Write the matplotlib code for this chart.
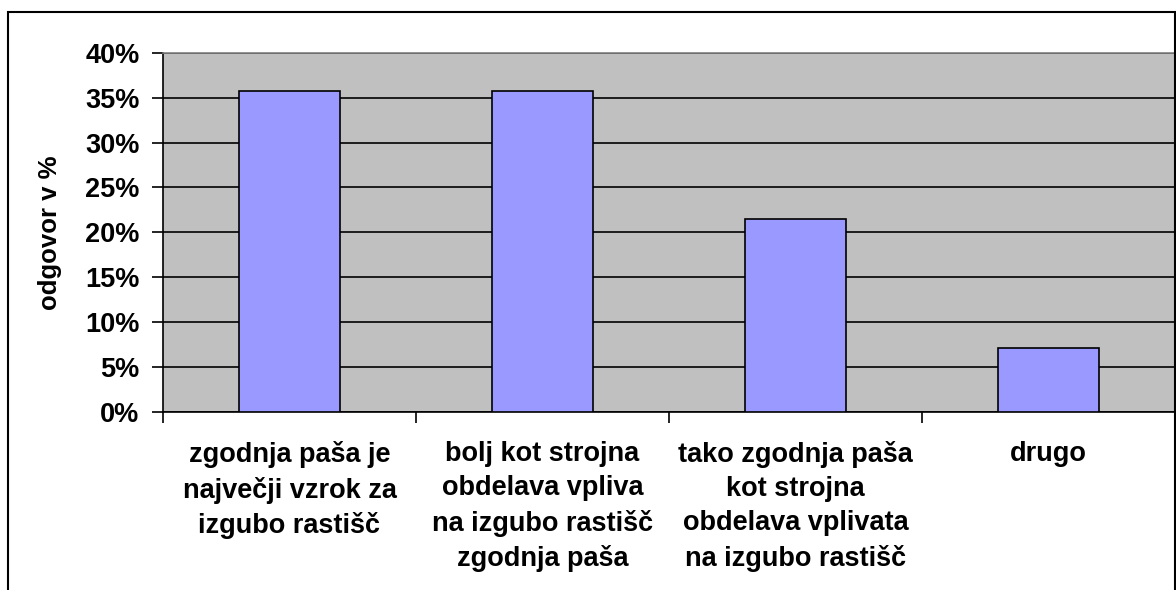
import matplotlib
matplotlib.use("Agg")
import matplotlib.pyplot as plt
from matplotlib.patches import Rectangle
from matplotlib.ticker import FuncFormatter, MultipleLocator

categories = [
    "zgodnja paša je\nnajvečji vzrok za\nizgubo rastišč",
    "bolj kot strojna\nobdelava vpliva\nna izgubo rastišč\nzgodnja paša",
    "tako zgodnja paša\nkot strojna\nobdelava vplivata\nna izgubo rastišč",
    "drugo",
]
values = [35.71, 35.71, 21.43, 7.14]
y_label = "odgovor v %"

plt.rcParams['font.family'] = ['Liberation Sans', 'DejaVu Sans']
plt.rcParams['font.weight'] = 'bold'

W, H = 1176, 590
fig = plt.figure(figsize=(W / 100, H / 100), dpi=100)
ax = fig.add_axes([163 / W, 1 - 411.5 / H, (1175 - 163) / W, (411.5 - 53) / H])

ax.set_facecolor('#C0C0C0')
x = list(range(len(categories)))
ax.bar(x, values, width=0.4, color='#9999FF', edgecolor='black', linewidth=1.2, zorder=3)

ax.set_xlim(-0.5, len(categories) - 0.5)
ax.set_ylim(0, 40)
ax.yaxis.set_major_locator(MultipleLocator(5))
ax.yaxis.set_major_formatter(FuncFormatter(lambda v, p: f"{int(round(v))}%"))
ax.grid(axis='y', color='black', linewidth=1.2, zorder=1)
ax.set_axisbelow(True)

ax.set_xticks([i - 0.5 for i in range(len(categories) + 1)])
ax.set_xticklabels([])
ax.set_xticks(x, minor=True)
ax.set_xticklabels(categories, minor=True, fontsize=19.5, fontweight='bold', linespacing=1.4, va='top')
ax.tick_params(axis='x', which='minor', length=0, pad=21.5)
ax.tick_params(axis='x', which='major', length=8, width=1.2, direction='out')
ax.tick_params(axis='y', length=8, width=1.2, direction='out', labelsize=19.5, pad=9)
for lbl in ax.get_yticklabels():
    lbl.set_fontweight('bold')

for side in ['left', 'bottom']:
    ax.spines[side].set_color('black')
    ax.spines[side].set_linewidth(1.2)
for side in ['top', 'right']:
    ax.spines[side].set_color('#808080')
    ax.spines[side].set_linewidth(1.2)

fig.text(50 / W, 1 - 233 / H, y_label, rotation=90, ha='center', va='center',
         fontsize=18.5, fontweight='bold')

fig.patches.append(Rectangle((8 / W, -0.1), (1175 - 8) / W, 1.1 - 12 / H,
                             transform=fig.transFigure, fill=False,
                             edgecolor='black', linewidth=1.5))

fig.savefig('out.png', dpi=100)
